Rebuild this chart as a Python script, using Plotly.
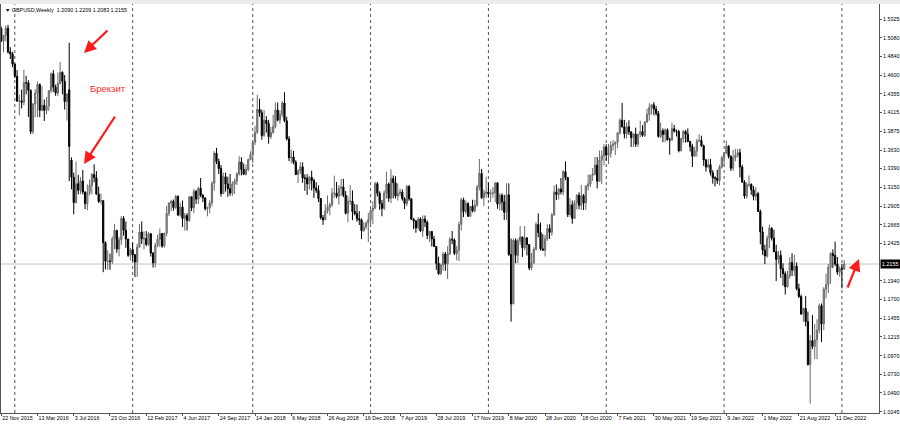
import pandas as pd
import plotly.graph_objects as go

# ---------------- data (GBPUSD weekly bars) ----------------
symbol = "GBPUSD,Weekly"
first_week = "2015-11-22"

opens = [
    1.5200, 1.5040, 1.5112, 1.5205, 1.4900, 1.4875,
    # 2016
    1.4740, 1.4584, 1.4263, 1.4268, 1.4247, 1.4501, 1.4500, 1.4402, 1.3868, 1.4225, 1.4367, 1.4478, 1.4145,
    1.4208, 1.4144, 1.4198, 1.4398, 1.4617, 1.4443, 1.4367, 1.4491, 1.4636, 1.4520, 1.4256, 1.4410, 1.3500,
    1.3277, 1.2951, 1.3194, 1.3108, 1.3229, 1.3087, 1.2937, 1.3078, 1.3172, 1.3314, 1.3271, 1.3059, 1.2965,
    1.2974, 1.2432, 1.2191, 1.2193, 1.2187, 1.2480, 1.2588, 1.2350, 1.2470, 1.2745, 1.2592, 1.2478, 1.2268,
    # 2017
    1.2340, 1.2274, 1.2181, 1.2374, 1.2569, 1.2480, 1.2486, 1.2409, 1.2546, 1.2297, 1.2171, 1.2398, 1.2475,
    1.2550, 1.2388, 1.2552, 1.2810, 1.2945, 1.2968, 1.2887, 1.3030, 1.2790, 1.2893, 1.2744, 1.2782, 1.2718,
    1.3025, 1.2883, 1.3095, 1.2995, 1.3134, 1.3043, 1.3011, 1.2873, 1.2880, 1.2946, 1.3200, 1.3590, 1.3481,
    1.3390, 1.3068, 1.3285, 1.3190, 1.3130, 1.3073, 1.3190, 1.3227, 1.3320, 1.3475, 1.3380, 1.3317, 1.3378,
    # 2018
    1.3505, 1.3569, 1.3727, 1.3860, 1.4155, 1.4112, 1.3817, 1.4014, 1.3974, 1.3802, 1.3856, 1.3933, 1.4148,
    1.4017, 1.4091, 1.4238, 1.4008, 1.3774, 1.3530, 1.3540, 1.3470, 1.3314, 1.3357, 1.3413, 1.3268, 1.3266,
    1.3192, 1.3277, 1.3235, 1.3138, 1.3108, 1.3003, 1.2755, 1.2727, 1.2840, 1.2890, 1.2925, 1.3070, 1.3075,
    1.3032, 1.3135, 1.3152, 1.3045, 1.2812, 1.2967, 1.2970, 1.2835, 1.2807, 1.2741, 1.2726, 1.2585, 1.2634,
    # 2019
    1.2685, 1.2730, 1.2846, 1.2877, 1.3195, 1.3072, 1.2939, 1.2875, 1.3074, 1.3190, 1.3007, 1.3260, 1.3207,
    1.3035, 1.3068, 1.3085, 1.2998, 1.2938, 1.3159, 1.2998, 1.2735, 1.2712, 1.2624, 1.2738, 1.2582, 1.2738,
    1.2696, 1.2526, 1.2577, 1.2480, 1.2383, 1.2164, 1.2030, 1.2141, 1.2285, 1.2161, 1.2289, 1.2475, 1.2467,
    1.2291, 1.2333, 1.2666, 1.2986, 1.2835, 1.2938, 1.2772, 1.2901, 1.2843, 1.2918, 1.3150, 1.3327, 1.3014,
    # 2020
    1.3075, 1.3085, 1.3063, 1.3072, 1.3075, 1.3206, 1.2930, 1.3045, 1.2960, 1.2825, 1.3050, 1.2280, 1.1640,
    1.2460, 1.2268, 1.2455, 1.2505, 1.2367, 1.2493, 1.2407, 1.2105, 1.2166, 1.2345, 1.2666, 1.2562, 1.2352,
    1.2335, 1.2482, 1.2615, 1.2565, 1.2790, 1.3085, 1.3055, 1.3125, 1.3088, 1.3350, 1.3275, 1.2795, 1.2920,
    1.2745, 1.2945, 1.3045, 1.2915, 1.3040, 1.2945, 1.3163, 1.3190, 1.3305, 1.3320, 1.3435, 1.3225, 1.3500, 1.3555,
    # 2021
    1.3670, 1.3565, 1.3590, 1.3690, 1.3705, 1.3730, 1.3850, 1.4015, 1.3930, 1.3840, 1.3930, 1.3865, 1.3790,
    1.3835, 1.3705, 1.3835, 1.3870, 1.3820, 1.3990, 1.4090, 1.4180, 1.4215, 1.4160, 1.4105, 1.3805, 1.3880,
    1.3830, 1.3890, 1.3760, 1.3760, 1.3905, 1.3875, 1.3870, 1.3620, 1.3775, 1.3870, 1.3835, 1.3740, 1.3675,
    1.3550, 1.3615, 1.3745, 1.3755, 1.3685, 1.3500, 1.3410, 1.3440, 1.3335, 1.3270, 1.3265, 1.3235, 1.3410,
    # 2022
    1.3530, 1.3590, 1.3680, 1.3550, 1.3395, 1.3530, 1.3560, 1.3595, 1.3410, 1.3215, 1.3035, 1.3180, 1.3185,
    1.3115, 1.3030, 1.3065, 1.2835, 1.2570, 1.2335, 1.2260, 1.2490, 1.2620, 1.2490, 1.2315, 1.2215, 1.2265,
    1.2095, 1.2030, 1.1860, 1.2000, 1.2175, 1.2075, 1.2130, 1.1835, 1.1735, 1.1510, 1.1580, 1.1410, 1.0855,
    1.1165, 1.1090, 1.1175, 1.1300, 1.1615, 1.1380, 1.1830, 1.1890, 1.2110, 1.2290, 1.2265, 1.2155, 1.2050,
    # 2023
    1.2095, 1.2090,
]

highs = [
    1.5226, 1.5120, 1.5242, 1.5248, 1.4960, 1.4900,
    # 2016
    1.4750, 1.4665, 1.4345, 1.4410, 1.4668, 1.4591, 1.4533, 1.4414, 1.4237, 1.4415, 1.4515, 1.4490, 1.4459,
    1.4283, 1.4315, 1.4401, 1.4632, 1.4664, 1.4475, 1.4632, 1.4770, 1.4647, 1.4600, 1.4360, 1.5018, 1.3535,
    1.3338, 1.3480, 1.3309, 1.3279, 1.3372, 1.3095, 1.3186, 1.3247, 1.3330, 1.3445, 1.3357, 1.3157, 1.3068,
    1.2980, 1.2450, 1.2333, 1.2290, 1.2512, 1.2675, 1.2600, 1.2509, 1.2775, 1.2775, 1.2706, 1.2480, 1.2363,
    # 2017
    1.2432, 1.2284, 1.2417, 1.2673, 1.2706, 1.2578, 1.2581, 1.2570, 1.2556, 1.2309, 1.2430, 1.2532, 1.2614,
    1.2555, 1.2560, 1.2905, 1.2950, 1.2988, 1.2988, 1.3048, 1.3045, 1.2950, 1.2977, 1.2815, 1.2813, 1.3029,
    1.3030, 1.3125, 1.3113, 1.3157, 1.3268, 1.3062, 1.3015, 1.2899, 1.2980, 1.3226, 1.3616, 1.3658, 1.3520,
    1.3436, 1.3338, 1.3338, 1.3285, 1.3321, 1.3225, 1.3260, 1.3346, 1.3550, 1.3537, 1.3456, 1.3441, 1.3521,
    # 2018
    1.3613, 1.3743, 1.3943, 1.4345, 1.4294, 1.4152, 1.4145, 1.4069, 1.4020, 1.3929, 1.4087, 1.4245, 1.4245,
    1.4142, 1.4263, 1.4377, 1.4061, 1.3809, 1.3633, 1.3618, 1.3498, 1.3383, 1.3473, 1.3472, 1.3316, 1.3316,
    1.3298, 1.3363, 1.3260, 1.3213, 1.3172, 1.3007, 1.2790, 1.2930, 1.3043, 1.2950, 1.3140, 1.3298, 1.3217,
    1.3175, 1.3258, 1.3258, 1.3099, 1.3040, 1.3176, 1.3107, 1.2930, 1.2925, 1.2840, 1.2745, 1.2697, 1.2707,
    # 2019
    1.2817, 1.2866, 1.2970, 1.3218, 1.3217, 1.3096, 1.2986, 1.3108, 1.3350, 1.3210, 1.3381, 1.3301, 1.3292,
    1.3197, 1.3132, 1.3121, 1.3020, 1.3177, 1.3176, 1.3006, 1.2750, 1.2725, 1.2763, 1.2760, 1.2785, 1.2783,
    1.2720, 1.2579, 1.2580, 1.2520, 1.2385, 1.2250, 1.2160, 1.2310, 1.2312, 1.2385, 1.2501, 1.2582, 1.2487,
    1.2391, 1.2707, 1.3013, 1.3012, 1.2976, 1.2954, 1.2905, 1.2987, 1.2986, 1.3180, 1.3515, 1.3385, 1.3118,
    # 2020
    1.3284, 1.3210, 1.3119, 1.3152, 1.3209, 1.3209, 1.3070, 1.3070, 1.3050, 1.3200, 1.3200, 1.2485, 1.2485,
    1.2487, 1.2485, 1.2647, 1.2510, 1.2647, 1.2503, 1.2410, 1.2297, 1.2375, 1.2697, 1.2810, 1.2690, 1.2542,
    1.2532, 1.2670, 1.2669, 1.2815, 1.3170, 1.3185, 1.3143, 1.3267, 1.3370, 1.3482, 1.3282, 1.3007, 1.2977,
    1.2980, 1.3058, 1.3083, 1.3177, 1.3062, 1.3177, 1.3313, 1.3310, 1.3398, 1.3540, 1.3540, 1.3625, 1.3625, 1.3705,
    # 2021
    1.3705, 1.3710, 1.3745, 1.3758, 1.3740, 1.3865, 1.4040, 1.4240, 1.4020, 1.3990, 1.4015, 1.3870, 1.3850,
    1.3920, 1.3840, 1.4010, 1.3950, 1.4005, 1.4165, 1.4235, 1.4220, 1.4250, 1.4200, 1.4135, 1.3985, 1.3910,
    1.3910, 1.3910, 1.3790, 1.3985, 1.3955, 1.3895, 1.3890, 1.3790, 1.3890, 1.3890, 1.3910, 1.3750, 1.3710,
    1.3670, 1.3775, 1.3835, 1.3815, 1.3700, 1.3515, 1.3515, 1.3515, 1.3370, 1.3290, 1.3375, 1.3440, 1.3555,
    # 2022
    1.3600, 1.3750, 1.3690, 1.3560, 1.3630, 1.3645, 1.3645, 1.3645, 1.3440, 1.3240, 1.3210, 1.3300, 1.3200,
    1.3165, 1.3150, 1.3090, 1.2860, 1.2640, 1.2405, 1.2525, 1.2665, 1.2630, 1.2600, 1.2405, 1.2325, 1.2330,
    1.2165, 1.2060, 1.2065, 1.2245, 1.2295, 1.2275, 1.2175, 1.1900, 1.1760, 1.1590, 1.1740, 1.1540, 1.1235,
    1.1495, 1.1380, 1.1440, 1.1645, 1.1645, 1.1855, 1.2030, 1.2155, 1.2310, 1.2345, 1.2445, 1.2245, 1.2125,
    # 2023
    1.2155, 1.2209,
]

lows = [
    1.5027, 1.4895, 1.5036, 1.4878, 1.4806, 1.4701,
    # 2016
    1.4562, 1.4252, 1.4080, 1.4168, 1.4209, 1.4350, 1.4057, 1.3836, 1.3835, 1.4057, 1.4054, 1.4055, 1.4130,
    1.4005, 1.4091, 1.4135, 1.4367, 1.4380, 1.4331, 1.4330, 1.4478, 1.4351, 1.4154, 1.4012, 1.3229, 1.3122,
    1.2798, 1.2935, 1.3057, 1.3059, 1.3055, 1.2865, 1.2852, 1.3044, 1.3058, 1.3214, 1.3055, 1.2945, 1.2924,
    1.2050, 1.2087, 1.2081, 1.2081, 1.2154, 1.2345, 1.2300, 1.2254, 1.2405, 1.2523, 1.2365, 1.2247, 1.2200,
    # 2017
    1.2198, 1.1986, 1.1988, 1.2365, 1.2415, 1.2344, 1.2384, 1.2391, 1.2252, 1.2109, 1.2110, 1.2374, 1.2375,
    1.2365, 1.2367, 1.2515, 1.2776, 1.2842, 1.2845, 1.2865, 1.2775, 1.2768, 1.2635, 1.2588, 1.2589, 1.2702,
    1.2838, 1.2812, 1.2932, 1.2931, 1.3020, 1.2956, 1.2845, 1.2772, 1.2812, 1.2903, 1.3105, 1.3447, 1.3321,
    1.3027, 1.3060, 1.3092, 1.3025, 1.3038, 1.3037, 1.3061, 1.3178, 1.3300, 1.3302, 1.3311, 1.3300, 1.3355,
    # 2018
    1.3499, 1.3460, 1.3694, 1.3836, 1.4060, 1.3764, 1.3801, 1.3855, 1.3712, 1.3773, 1.3843, 1.3910, 1.4000,
    1.3966, 1.4054, 1.3989, 1.3754, 1.3487, 1.3456, 1.3444, 1.3305, 1.3204, 1.3319, 1.3206, 1.3102, 1.3049,
    1.3118, 1.3105, 1.3010, 1.3077, 1.2957, 1.2730, 1.2662, 1.2726, 1.2810, 1.2785, 1.2891, 1.3012, 1.3006,
    1.2923, 1.3035, 1.3020, 1.2796, 1.2696, 1.2924, 1.2724, 1.2785, 1.2704, 1.2660, 1.2477, 1.2573, 1.2603,
    # 2019
    1.2438, 1.2668, 1.2671, 1.2866, 1.3030, 1.2855, 1.2773, 1.2852, 1.3002, 1.2960, 1.2943, 1.3004, 1.3003,
    1.2977, 1.3031, 1.2974, 1.2866, 1.2906, 1.2973, 1.2727, 1.2605, 1.2560, 1.2600, 1.2573, 1.2505, 1.2633,
    1.2477, 1.2439, 1.2382, 1.2381, 1.2080, 1.2015, 1.2014, 1.2068, 1.2068, 1.1959, 1.2272, 1.2412, 1.2271,
    1.2204, 1.2194, 1.2588, 1.2762, 1.2804, 1.2768, 1.2768, 1.2824, 1.2824, 1.2895, 1.3106, 1.2998, 1.2905,
    # 2020
    1.3013, 1.3012, 1.2955, 1.3012, 1.2955, 1.2870, 1.2850, 1.2848, 1.2725, 1.2725, 1.2260, 1.1410, 1.1634,
    1.2165, 1.2165, 1.2405, 1.2247, 1.2336, 1.2266, 1.2076, 1.2076, 1.2165, 1.2333, 1.2500, 1.2330, 1.2325,
    1.2252, 1.2455, 1.2480, 1.2520, 1.2780, 1.2982, 1.2990, 1.3055, 1.3045, 1.3240, 1.2762, 1.2765, 1.2676,
    1.2743, 1.2860, 1.2863, 1.2855, 1.2853, 1.2855, 1.3105, 1.3152, 1.3230, 1.3300, 1.3135, 1.3225, 1.3188, 1.3430,
    # 2021
    1.3490, 1.3450, 1.3530, 1.3625, 1.3565, 1.3655, 1.3830, 1.3920, 1.3780, 1.3780, 1.3825, 1.3670, 1.3670,
    1.3670, 1.3670, 1.3795, 1.3800, 1.3800, 1.3985, 1.4010, 1.4090, 1.4080, 1.4075, 1.3790, 1.3785, 1.3730,
    1.3730, 1.3755, 1.3570, 1.3750, 1.3855, 1.3805, 1.3600, 1.3615, 1.3725, 1.3725, 1.3730, 1.3610, 1.3410,
    1.3545, 1.3545, 1.3735, 1.3670, 1.3425, 1.3350, 1.3390, 1.3300, 1.3195, 1.3160, 1.3190, 1.3170, 1.3390,
    # 2022
    1.3430, 1.3580, 1.3520, 1.3360, 1.3360, 1.3485, 1.3535, 1.3275, 1.3205, 1.3000, 1.3000, 1.3150, 1.3050,
    1.2980, 1.2975, 1.2830, 1.2410, 1.2275, 1.2155, 1.2235, 1.2360, 1.2460, 1.2310, 1.1935, 1.2160, 1.1975,
    1.1875, 1.1760, 1.1850, 1.1965, 1.2000, 1.2005, 1.1815, 1.1715, 1.1495, 1.1405, 1.1350, 1.0840, 1.0350,
    1.1055, 1.0925, 1.0925, 1.1255, 1.1145, 1.1300, 1.1710, 1.1780, 1.1900, 1.2105, 1.2130, 1.2015, 1.1990,
    # 2023
    1.1840, 1.2083,
]

closes = [
    1.5040, 1.5112, 1.5205, 1.4900, 1.4875, 1.4740,
    # 2016
    1.4584, 1.4263, 1.4268, 1.4247, 1.4501, 1.4500, 1.4402, 1.3868, 1.4225, 1.4367, 1.4478, 1.4145, 1.4208,
    1.4144, 1.4198, 1.4398, 1.4617, 1.4443, 1.4367, 1.4491, 1.4636, 1.4520, 1.4256, 1.4356, 1.3676, 1.3277,
    1.2951, 1.3194, 1.3108, 1.3229, 1.3087, 1.2937, 1.3078, 1.3172, 1.3314, 1.3271, 1.3059, 1.2965, 1.2974,
    1.2432, 1.2191, 1.2193, 1.2187, 1.2480, 1.2588, 1.2350, 1.2470, 1.2745, 1.2592, 1.2478, 1.2268, 1.2340,
    # 2017
    1.2274, 1.2181, 1.2374, 1.2569, 1.2480, 1.2486, 1.2409, 1.2546, 1.2297, 1.2171, 1.2398, 1.2475, 1.2550,
    1.2388, 1.2552, 1.2810, 1.2945, 1.2968, 1.2887, 1.3030, 1.2790, 1.2893, 1.2744, 1.2782, 1.2718, 1.3025,
    1.2883, 1.3095, 1.2995, 1.3134, 1.3043, 1.3011, 1.2873, 1.2880, 1.2946, 1.3200, 1.3590, 1.3481, 1.3390,
    1.3068, 1.3285, 1.3190, 1.3130, 1.3073, 1.3190, 1.3227, 1.3320, 1.3475, 1.3380, 1.3317, 1.3378, 1.3505,
    # 2018
    1.3569, 1.3727, 1.3860, 1.4155, 1.4112, 1.3817, 1.4014, 1.3974, 1.3802, 1.3856, 1.3933, 1.4148, 1.4017,
    1.4091, 1.4238, 1.4008, 1.3774, 1.3530, 1.3540, 1.3470, 1.3314, 1.3357, 1.3413, 1.3268, 1.3266, 1.3192,
    1.3277, 1.3235, 1.3138, 1.3108, 1.3003, 1.2755, 1.2727, 1.2840, 1.2890, 1.2925, 1.3070, 1.3075, 1.3032,
    1.3135, 1.3152, 1.3045, 1.2812, 1.2967, 1.2970, 1.2835, 1.2807, 1.2741, 1.2726, 1.2585, 1.2634, 1.2685,
    # 2019
    1.2730, 1.2846, 1.2877, 1.3195, 1.3072, 1.2939, 1.2875, 1.3074, 1.3190, 1.3007, 1.3260, 1.3207, 1.3035,
    1.3068, 1.3085, 1.2998, 1.2938, 1.3159, 1.2998, 1.2735, 1.2712, 1.2624, 1.2738, 1.2582, 1.2738, 1.2696,
    1.2526, 1.2577, 1.2480, 1.2383, 1.2164, 1.2030, 1.2141, 1.2285, 1.2161, 1.2289, 1.2475, 1.2467, 1.2291,
    1.2333, 1.2666, 1.2986, 1.2835, 1.2938, 1.2772, 1.2901, 1.2843, 1.2918, 1.3150, 1.3327, 1.3014, 1.3075,
    # 2020
    1.3085, 1.3063, 1.3072, 1.3075, 1.3206, 1.2930, 1.3045, 1.2960, 1.2825, 1.3050, 1.2280, 1.1640, 1.2460,
    1.2268, 1.2455, 1.2505, 1.2367, 1.2493, 1.2407, 1.2105, 1.2166, 1.2345, 1.2666, 1.2562, 1.2352, 1.2335,
    1.2482, 1.2615, 1.2565, 1.2790, 1.3085, 1.3055, 1.3125, 1.3088, 1.3350, 1.3275, 1.2795, 1.2920, 1.2745,
    1.2945, 1.3045, 1.2915, 1.3040, 1.2945, 1.3163, 1.3190, 1.3305, 1.3320, 1.3435, 1.3225, 1.3500, 1.3555, 1.3670,
    # 2021
    1.3565, 1.3590, 1.3690, 1.3705, 1.3730, 1.3850, 1.4015, 1.3930, 1.3840, 1.3930, 1.3865, 1.3790, 1.3835,
    1.3705, 1.3835, 1.3870, 1.3820, 1.3990, 1.4090, 1.4180, 1.4215, 1.4160, 1.4105, 1.3805, 1.3880, 1.3830,
    1.3890, 1.3760, 1.3760, 1.3905, 1.3875, 1.3870, 1.3620, 1.3775, 1.3870, 1.3835, 1.3740, 1.3675, 1.3550,
    1.3615, 1.3745, 1.3755, 1.3685, 1.3500, 1.3410, 1.3440, 1.3335, 1.3270, 1.3265, 1.3235, 1.3410, 1.3530,
    # 2022
    1.3590, 1.3680, 1.3550, 1.3395, 1.3530, 1.3560, 1.3595, 1.3410, 1.3215, 1.3035, 1.3180, 1.3185, 1.3115,
    1.3030, 1.3065, 1.2835, 1.2570, 1.2335, 1.2260, 1.2490, 1.2620, 1.2490, 1.2315, 1.2215, 1.2265, 1.2095,
    1.2030, 1.1860, 1.2000, 1.2175, 1.2075, 1.2130, 1.1835, 1.1735, 1.1510, 1.1580, 1.1410, 1.0855, 1.1165,
    1.1090, 1.1175, 1.1300, 1.1615, 1.1380, 1.1830, 1.1890, 1.2110, 1.2290, 1.2265, 1.2155, 1.2050, 1.2095,
    # 2023
    1.2090, 1.2155,
]

price_ticks = [1.5325, 1.5080, 1.4840, 1.4600, 1.4355, 1.4115, 1.3875, 1.3630, 1.3390,
               1.3150, 1.2905, 1.2665, 1.2425, 1.1940, 1.1700, 1.1455, 1.1215, 1.0970,
               1.0730, 1.0490, 1.0245]
date_ticks = ["2015-11-22", "2016-03-13", "2016-07-03", "2016-10-23", "2017-02-12",
              "2017-06-04", "2017-09-24", "2018-01-14", "2018-05-06", "2018-08-26",
              "2018-12-16", "2019-04-07", "2019-07-28", "2019-11-17", "2020-03-08",
              "2020-06-28", "2020-10-18", "2021-02-07", "2021-05-30", "2021-09-19",
              "2022-01-09", "2022-05-01", "2022-08-21", "2022-12-11"]
year_separators = ["2016-01-03", "2017-01-01", "2018-01-07", "2019-01-06",
                   "2020-01-05", "2021-01-03", "2022-01-02", "2023-01-01"]
current_price = 1.2155
header_ohlc = [1.2090, 1.2209, 1.2083, 1.2155]
brexit_label = "Брекзит"

# ---------------- figure ----------------
W, H = 900, 426
ML, MR, MT, MB = 1, 21, 4, 13
PW, PH = W - ML - MR, H - MT - MB
FONT = "Liberation Sans, Arial, sans-serif"
FS = 5.4

def px(x):
    return (x - ML) / PW

def py(y):
    return 1 - (y - MT) / PH

n = min(len(opens), len(highs), len(lows), len(closes))
dates = pd.date_range(first_week, periods=n, freq="7D")
week = pd.Timedelta(days=7)
bar_px = 2.266
x_left = dates[0] - week * 0.1
x_right = x_left + week * (PW / bar_px)

fig = go.Figure()
fig.add_trace(go.Candlestick(
    x=dates, open=opens[:n], high=highs[:n], low=lows[:n], close=closes[:n],
    increasing=dict(line=dict(color="#6a6a6a", width=1), fillcolor="#a6a6a6"),
    decreasing=dict(line=dict(color="#000000", width=1), fillcolor="#000000"),
    whiskerwidth=0, hoverinfo="skip", showlegend=False,
))

shapes = []
for d in year_separators:
    shapes.append(dict(type="line", xref="x", yref="paper", x0=d, x1=d, y0=0, y1=1,
                       line=dict(color="#555555", width=1, dash="dot"), layer="below"))
shapes.append(dict(type="line", xref="paper", yref="y", x0=0, x1=1,
                   y0=current_price, y1=current_price,
                   line=dict(color="#c4c4c4", width=1), layer="below"))
# toolbar strip above the chart
shapes.append(dict(type="rect", xref="paper", yref="paper", x0=-ML / PW, x1=1 + MR / PW,
                   y0=1, y1=1 + MT / PH, fillcolor="#ececec", line=dict(width=0)))

annotations = []
annotations.append(dict(
    xref="paper", yref="paper", x=px(3), y=py(10), xanchor="left", yanchor="middle",
    text="▼ " + symbol + "  " + " ".join(f"{v:.4f}" for v in header_ohlc),
    showarrow=False, font=dict(family=FONT, size=FS, color="#000000")))
annotations.append(dict(
    xref="paper", yref="paper", x=px(108), y=py(88), xanchor="center", yanchor="middle",
    text=brexit_label, showarrow=False, font=dict(family=FONT, size=9.5, color="#ff2a2a")))
for (hx, hy, tx, ty) in [(84, 53, 109, 29), (84, 164, 116, 115), (859, 259, 847, 289)]:
    annotations.append(dict(
        xref="paper", yref="paper", x=px(hx), y=py(hy), ax=tx - hx, ay=ty - hy,
        text="", showarrow=True, arrowhead=2, arrowsize=1.1, arrowwidth=2.2,
        arrowcolor="#ff1a1a"))
annotations.append(dict(
    xref="paper", yref="y", x=1, y=current_price, xanchor="left", yanchor="middle",
    xshift=1, text=f"{current_price:.4f}", showarrow=False, bgcolor="#000000",
    borderpad=1, font=dict(family=FONT, size=FS, color="#ffffff")))

tick_text_x = [pd.Timestamp(d).strftime("%d %b %Y").lstrip("0") for d in date_ticks]

fig.update_layout(
    width=W, height=H,
    margin=dict(l=ML, r=MR, t=MT, b=MB, pad=0, autoexpand=False),
    paper_bgcolor="#ffffff", plot_bgcolor="#ffffff",
    showlegend=False, boxgap=0.25,
    font=dict(family=FONT, size=FS, color="#000000"),
    shapes=shapes, annotations=annotations,
    xaxis=dict(type="date", range=[x_left, x_right], showgrid=False, zeroline=False,
               showline=True, linecolor="#555555", linewidth=1, mirror=True,
               ticks="outside", ticklen=2, tickcolor="#555555",
               tickvals=date_ticks, ticktext=tick_text_x, tickangle=0,
               ticklabelposition="outside right", automargin=False,
               tickfont=dict(family=FONT, size=FS, color="#000000"),
               rangeslider=dict(visible=False), fixedrange=True),
    yaxis=dict(side="right", range=[1.0228, 1.5519], showgrid=False, zeroline=False,
               showline=True, linecolor="#555555", linewidth=1, mirror=True,
               ticks="outside", ticklen=2, tickcolor="#555555", automargin=False,
               tickvals=price_ticks, ticktext=[f"{v:.4f}" for v in price_ticks],
               tickfont=dict(family=FONT, size=FS, color="#000000"), fixedrange=True),
)

fig.write_html("out.html", config={"displayModeBar": False},
               post_script="document.body.style.margin='0px';document.body.style.overflow='hidden';")
